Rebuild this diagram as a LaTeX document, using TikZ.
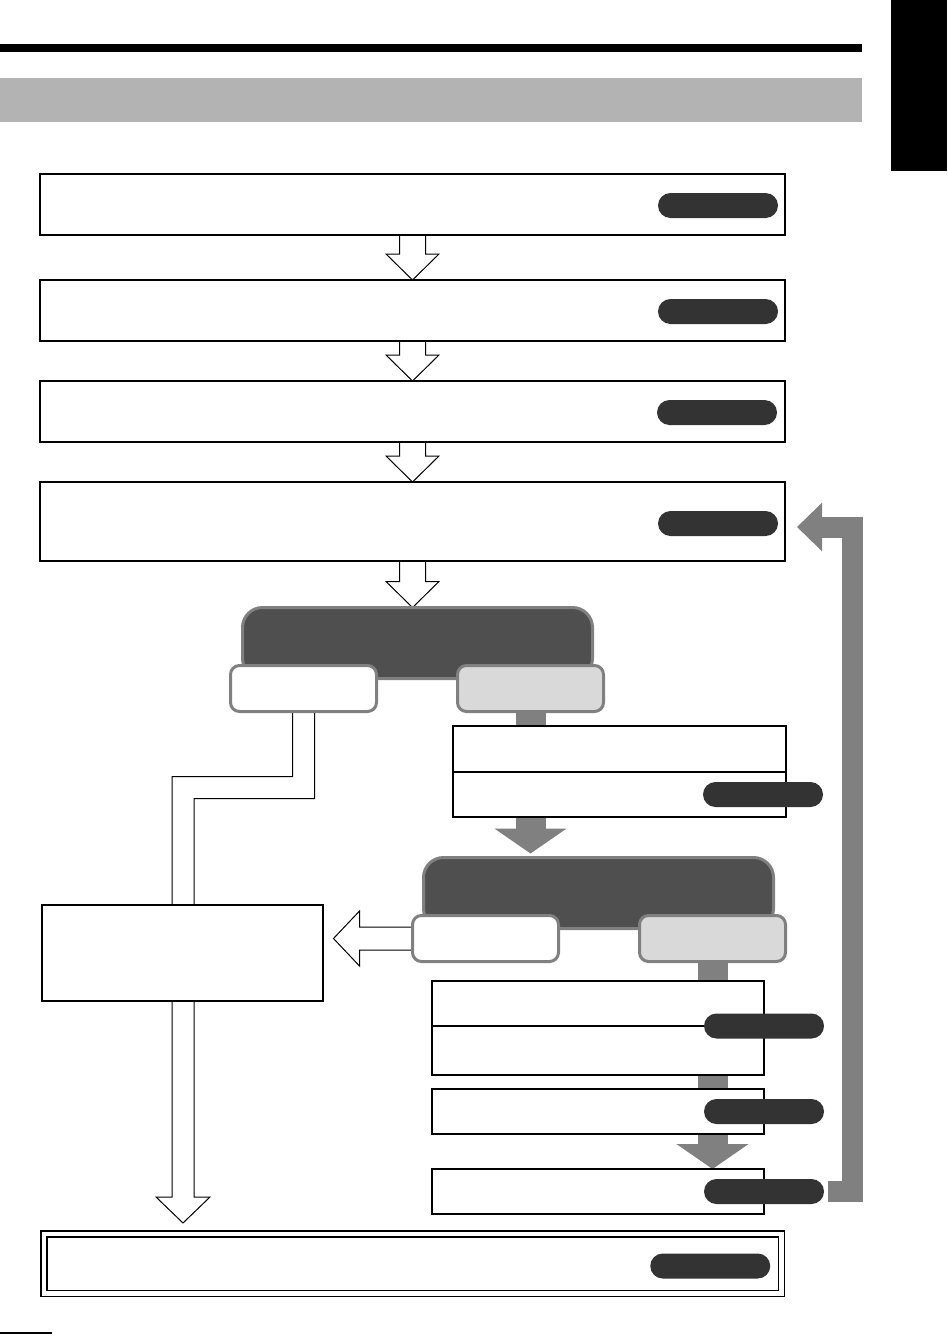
\documentclass[tikz,border=0pt]{standalone}
\usetikzlibrary{calc, arrows.meta, backgrounds}

\definecolor{pillgray}{HTML}{333333}
\definecolor{headgray}{HTML}{4F4F4F}
\definecolor{edgegray}{HTML}{808080}
\definecolor{nogray}{HTML}{D9D9D9}
\definecolor{arrowgray}{HTML}{808080}
\definecolor{bandgray}{HTML}{B3B3B3}

\newdimen\px
\px=0.75pt

\begin{document}
\begin{tikzpicture}[
    x=0.75pt, y=-0.75pt,
    % Styles
    step_box/.style={draw, line width=1.5\px, fill=white, inner sep=0pt, outer sep=0pt, anchor=north west},
    final_box/.style={step_box, double, double distance=4.5\px},
    tag_pill/.style={fill=pillgray, rounded corners=12.5\px, minimum width=120\px, minimum height=25\px, inner sep=0pt, outer sep=0pt},
    branch_head/.style={draw=edgegray, fill=headgray, line width=3\px, rounded corners=20\px, minimum width=350\px, minimum height=71\px, inner sep=0pt, outer sep=0pt, anchor=north west},
    choice_yes/.style={draw=edgegray, fill=white, line width=3\px, rounded corners=9\px, minimum width=146\px, minimum height=46\px, inner sep=0pt, outer sep=0pt, anchor=north west},
    choice_no/.style={choice_yes, fill=nogray},
    open_arrow/.style={draw, fill=white, line width=1\px},
    gray_stem/.style={draw=arrowgray, line width=22.5pt},
    gray_arrow/.style={gray_stem, -{Triangle[length=18.75pt, width=53.25pt]}},
    return_arrow/.style={draw=arrowgray, line width=15.75pt, -{Triangle[length=18.75pt, width=35.25pt]}}
]
\useasboundingbox (0,0) rectangle (947,1342);

% Page decoration
\fill (0,44) rectangle (862,52);
\fill[bandgray] (0,78) rectangle (862,122);
\fill (891,0) rectangle (947,171);
\draw[line width=1.5\px] (0,1333) -- (52,1333);

% 1. Main steps
\node[step_box, minimum width=745\px, minimum height=61\px] (b1) at (40,174) {};
\node[step_box, minimum width=745\px, minimum height=61\px] (b2) at (40,280) {};
\node[step_box, minimum width=745\px, minimum height=61\px] (b3) at (40,381) {};
\node[step_box, minimum width=745\px, minimum height=79\px] (b4) at (40,482) {};

% 2. First branch
\node[branch_head] (d1) at (242.5,607.5) {};
\node[choice_yes] (d1y) at (230.5,665.5) {};
\node[choice_no] (d1n) at (457.5,665.5) {};
\node[step_box, minimum width=333\px, minimum height=46\px] (b5a) at (453,726) {};
\node[step_box, minimum width=333\px, minimum height=45\px] (b5b) at (b5a.south west) {};

% 3. Second branch
\node[branch_head] (d2) at (423.5,857.5) {};
\node[choice_yes] (d2y) at (412.5,915.5) {};
\node[choice_no] (d2n) at (639.5,915.5) {};
\node[step_box, minimum width=332\px, minimum height=45\px] (b6a) at (432,981) {};
\node[step_box, minimum width=332\px, minimum height=49\px] (b6b) at (b6a.south west) {};
\node[step_box, minimum width=332\px, minimum height=45\px] (b7) at (432,1089) {};
\node[step_box, minimum width=332\px, minimum height=45\px] (b8) at (432,1169) {};

% 4. Side box and last step
\node[step_box, minimum width=281\px, minimum height=96\px] (lb) at (42,905) {};
\node[final_box, minimum width=737.5\px, minimum height=59.5\px] (b9) at (43.75,1233.75) {};
\coordinate (route_tip) at (183,1223);

% Pills
\node[tag_pill, anchor=east] (p1) at ($(b1.east)+(-7,1)$) {};
\node[tag_pill, anchor=east] (p2) at ($(b2.east)+(-7,1)$) {};
\node[tag_pill, anchor=east] (p3) at ($(b3.east)+(-8,1)$) {};
\node[tag_pill, anchor=east] (p4) at ($(b4.east)+(-7,2)$) {};
\node[tag_pill] (p5) at ($(b5b.east)+(-23,0)$) {};
\node[tag_pill] (p6) at (b6a.south east) {};
\node[tag_pill] (p7) at (b7.east) {};
\node[tag_pill] (p8) at (b8.east) {};
\node[tag_pill, anchor=east] (p9) at ($(b9.east)+(-11,2.5)$) {};

% Connectors
\begin{scope}[on background layer]
\foreach \from/\to in {b1/b2, b2/b3, b3/b4, b4/d1} {
    \draw[open_arrow] ($(\from.south)+(-13,0)$) -- ($(\from.south |- \to.north)+(-13,-26)$) -- ++(-13.5,0)
        -- (\from.south |- \to.north) -- ++(26.5,-26) -- ++(-13.5,0) -- ($(\from.south)+(13,0)$);
}
% yes route down to the last step
\draw[open_arrow] ($(d1y.south)+(-11,0)$) -- ++(0,65) -| (172,1197) -- ++(-16,0) -- (route_tip)
    -- ++(27,-26) -- ++(-16,0) |- ($(d1y.south)+(11,87)$) -- ($(d1y.south)+(11,0)$);
% yes route to side box
\draw[open_arrow] ($(d2y.west)+(0,-11.5)$) -- ++(-53,0) -- ++(0,-16) -- ($(d2y.west)+(-79,0)$)
    -- ++(26,27.5) -- ++(0,-16) -- ($(d2y.west)+(0,11.5)$);
% no route
\draw[gray_stem] (d1n.south) -- (d1n.south |- b5a.north);
\draw[gray_arrow] (d1n.south |- b5b.south) -- ($(d1n.south |- d2.north)+(0,-4)$);
\draw[gray_stem] (d2n.south) -- (d2n.south |- b6a.north);
\draw[gray_stem] (d2n.south |- b6b.south) -- (d2n.south |- b7.north);
\draw[gray_arrow] (d2n.south |- b7.south) -- (d2n.south |- b8.north);
\end{scope}

% Return loop
\draw[return_arrow] ($(p8.east)+(4,0)$) -| (852.5,527) -- ($(b4.east)+(12,5.5)$);

\end{tikzpicture}
\end{document}
